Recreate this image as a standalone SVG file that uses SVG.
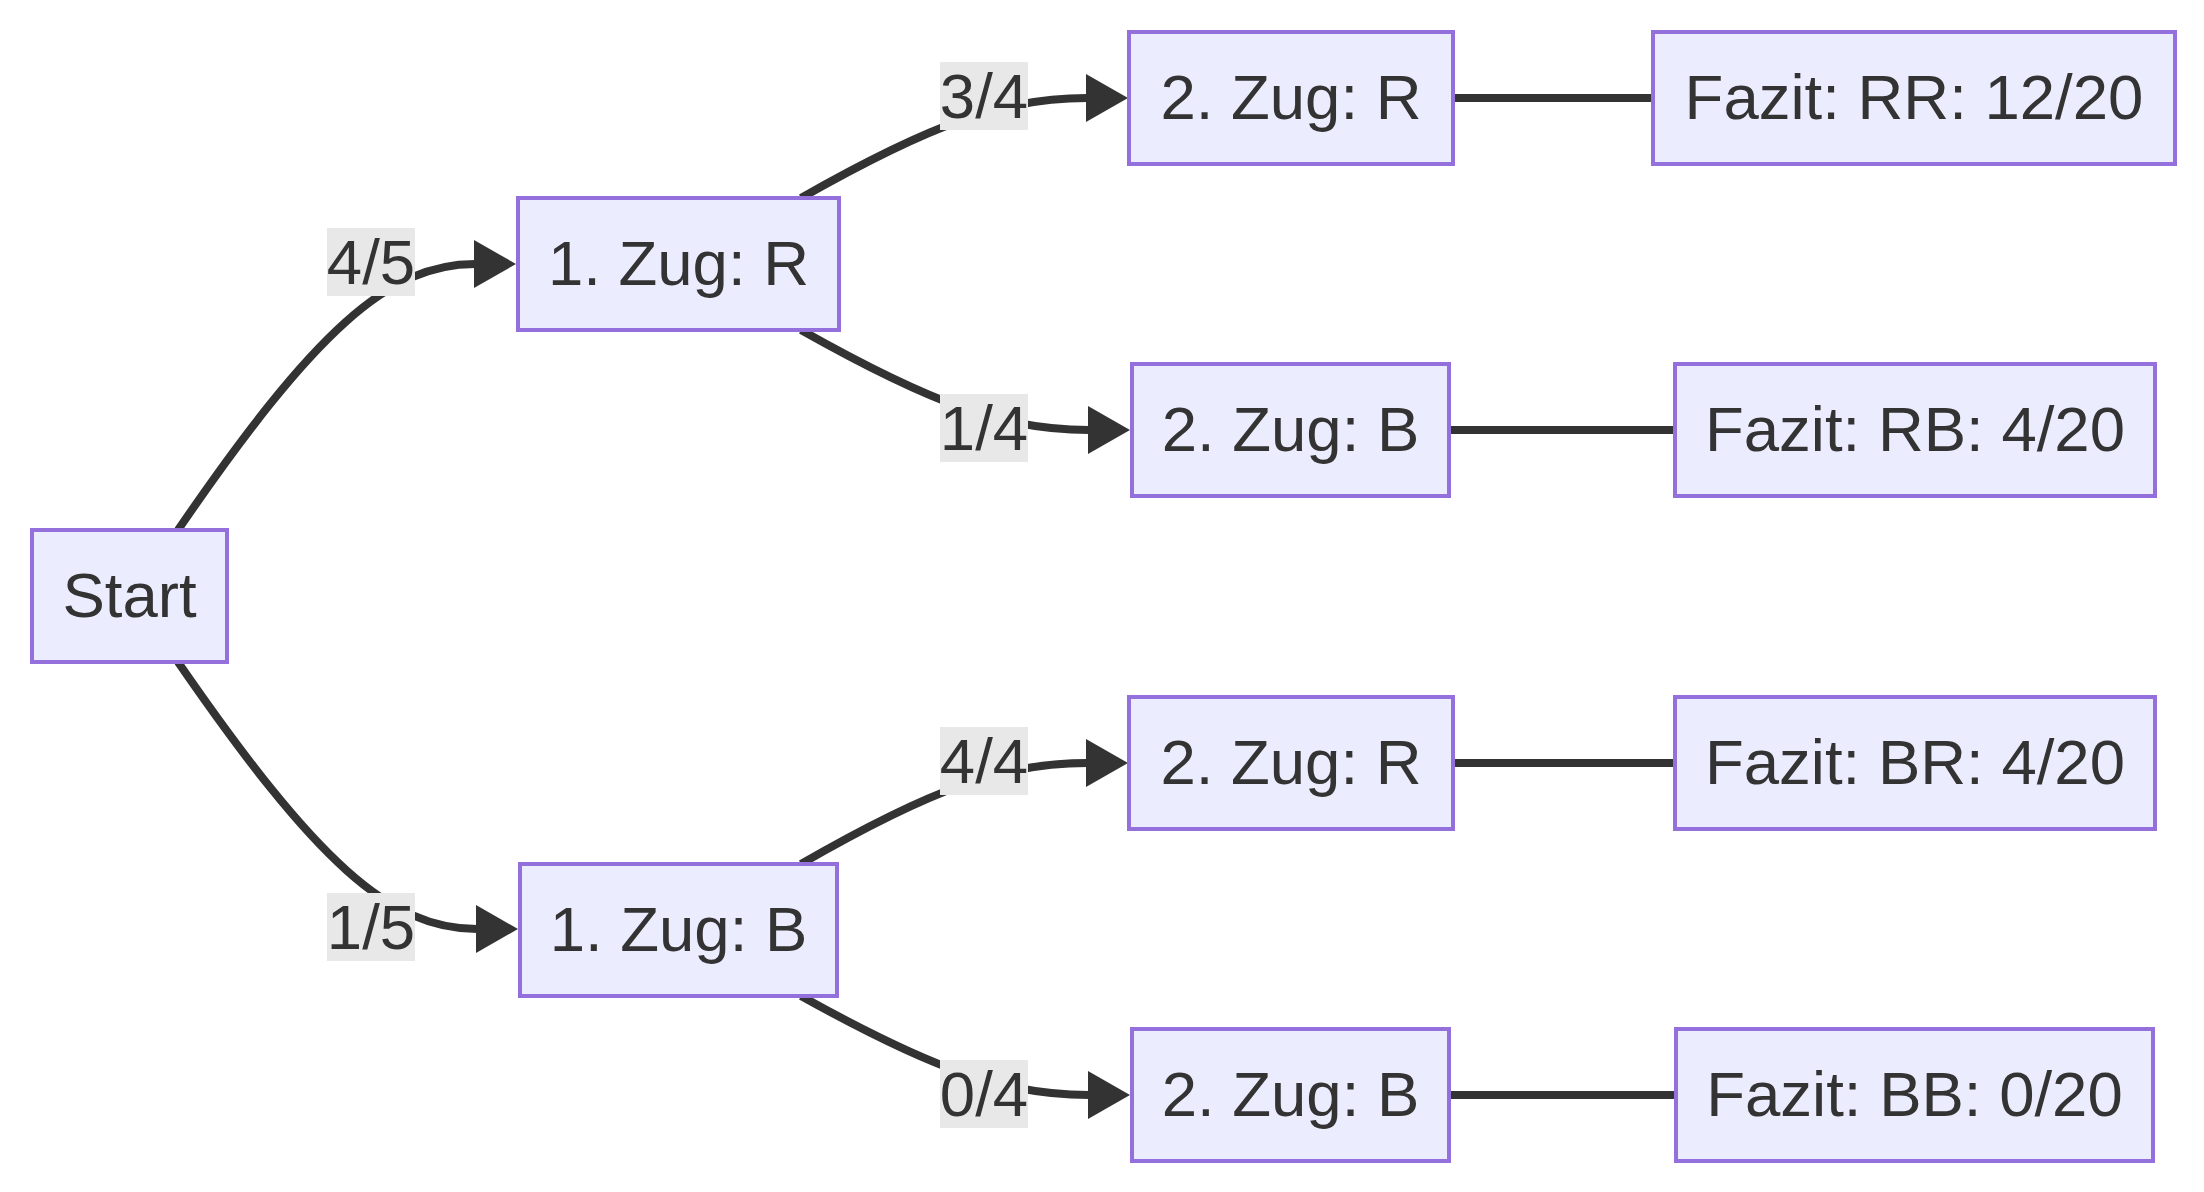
<svg xmlns="http://www.w3.org/2000/svg" width="2204" height="1192" viewBox="0 0 2204 1192">
<defs>
<style>
.node rect{fill:#ECECFF;stroke:#9370DB;stroke-width:4}
.node text,.label text{font-family:"Liberation Sans",Arial,sans-serif;font-size:63.5px;fill:#333333;text-anchor:middle}
.edge{fill:none;stroke:#333333;stroke-width:8}
.label rect{fill:#e8e8e8}
</style>
<marker id="arrow" viewBox="0 0 42 48" refX="1" refY="24" markerWidth="42" markerHeight="48" markerUnits="userSpaceOnUse" orient="auto">
<path d="M0,0 L42,24 L0,48 z" fill="#333333"/>
</marker>
</defs>
<rect width="2204" height="1192" fill="#ffffff"/>
<g id="connectors">
<path class="edge" d="M178,530 C315,330 389,264 475,264" marker-end="url(#arrow)"/>
<path class="edge" d="M178,662 C316,862 390,929 477,929" marker-end="url(#arrow)"/>
<path class="edge" d="M801,198 C933,123 1004,98 1087,98" marker-end="url(#arrow)"/>
<path class="edge" d="M801,330 C934,405 1005,430 1089,430" marker-end="url(#arrow)"/>
<path class="edge" d="M801,864 C933,788 1004,763 1087,763" marker-end="url(#arrow)"/>
<path class="edge" d="M801,996 C934,1070 1005,1095 1089,1095" marker-end="url(#arrow)"/>
<path class="edge" d="M1455,98 L1651,98"/>
<path class="edge" d="M1451,430 L1673,430"/>
<path class="edge" d="M1455,763 L1673,763"/>
<path class="edge" d="M1451,1095 L1674,1095"/>
<g class="label"><rect x="327" y="228" width="88" height="68"/><text x="371" y="284">4/5</text></g>
<g class="label"><rect x="327" y="893" width="88" height="68"/><text x="371" y="949">1/5</text></g>
<g class="label"><rect x="940" y="62" width="88" height="68"/><text x="984" y="118">3/4</text></g>
<g class="label"><rect x="940" y="394" width="88" height="68"/><text x="984" y="450">1/4</text></g>
<g class="label"><rect x="940" y="727" width="88" height="68"/><text x="984" y="783">4/4</text></g>
<g class="label"><rect x="940" y="1060" width="88" height="68"/><text x="984" y="1116">0/4</text></g>
</g>
<g id="start" class="node"><rect x="32" y="530" width="195" height="132"/><text x="129.5" y="617">Start</text></g>
<g id="zug1R" class="node"><rect x="518" y="198" width="321" height="132"/><text x="678.5" y="285">1. Zug: R</text></g>
<g id="zug1B" class="node"><rect x="520" y="864" width="317" height="132"/><text x="678.5" y="951">1. Zug: B</text></g>
<g id="zug2RR" class="node"><rect x="1129" y="32" width="324" height="132"/><text x="1291" y="119">2. Zug: R</text></g>
<g id="zug2RB" class="node"><rect x="1132" y="364" width="317" height="132"/><text x="1290.5" y="451">2. Zug: B</text></g>
<g id="zug2BR" class="node"><rect x="1129" y="697" width="324" height="132"/><text x="1291" y="784">2. Zug: R</text></g>
<g id="zug2BB" class="node"><rect x="1132" y="1029" width="317" height="132"/><text x="1290.5" y="1116">2. Zug: B</text></g>
<g id="fazitRR" class="node"><rect x="1653" y="32" width="522" height="132"/><text x="1914" y="119">Fazit: RR: 12/20</text></g>
<g id="fazitRB" class="node"><rect x="1675" y="364" width="480" height="132"/><text x="1915" y="451">Fazit: RB: 4/20</text></g>
<g id="fazitBR" class="node"><rect x="1675" y="697" width="480" height="132"/><text x="1915" y="784">Fazit: BR: 4/20</text></g>
<g id="fazitBB" class="node"><rect x="1676" y="1029" width="477" height="132"/><text x="1914.5" y="1116">Fazit: BB: 0/20</text></g>
</svg>
